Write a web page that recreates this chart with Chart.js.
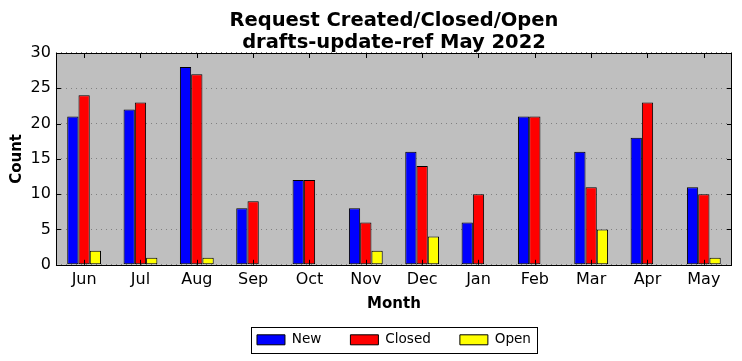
<!DOCTYPE html>
<html>
<head>
<meta charset="utf-8">
<script src="https://cdn.jsdelivr.net/npm/chart.js@4"></script>
<style>
  html, body { margin: 0; padding: 0; background: #fff; }
  #wrap { width: 742px; height: 361px; }
</style>
</head>
<body>
<div id="wrap"><canvas id="barChart" width="742" height="361"></canvas></div>
<script>
var months = ["Jun", "Jul", "Aug", "Sep", "Oct", "Nov", "Dec", "Jan", "Feb", "Mar", "Apr", "May"];
var newCounts = [21, 22, 28, 8, 12, 8, 16, 6, 21, 16, 18, 11];
var closedCounts = [24, 23, 27, 9, 12, 6, 14, 10, 21, 11, 23, 10];
var openCounts = [2, 1, 1, 0, 0, 2, 4, 0, 0, 5, 0, 1];
var yTicks = [0, 5, 10, 15, 20, 25, 30];

Chart.defaults.font.family = "'DejaVu Sans', sans-serif";
Chart.defaults.color = "#000";

// gray plot background, black frame, inward ticks, boxed legend
var framePlugin = {
    id: "frame",
    afterLayout: function(chart) {
        // center title and legend over the plot area, like matplotlib does
        var a = chart.chartArea;
        [chart.titleBlock, chart.legend].forEach(function(box) {
            if (!box) return;
            var d = (a.left + a.right) / 2 - (box.left + box.right) / 2;
            box.left += d;
            box.right += d;
        });
        chart.legend.top -= 1;
        chart.legend.bottom -= 1;
    },
    beforeDraw: function(chart) {
        var a = chart.chartArea, ctx = chart.ctx;
        ctx.save();
        ctx.fillStyle = "#bfbfbf";
        ctx.fillRect(a.left, a.top, a.right - a.left, a.bottom - a.top);
        ctx.restore();
    },
    afterDraw: function(chart) {
        var a = chart.chartArea, ctx = chart.ctx;
        var x = chart.scales.x, y = chart.scales.y;
        ctx.save();
        ctx.strokeStyle = "#000";
        ctx.lineWidth = 1;
        ctx.strokeRect(Math.round(a.left) + 0.5, Math.round(a.top) + 0.5,
            Math.round(a.right - a.left) - 1, Math.round(a.bottom - a.top));
        ctx.beginPath();
        for (var i = 0; i < months.length; i++) {
            var px = Math.round(x.getPixelForValue(i)) + 0.5;
            ctx.moveTo(px, a.bottom); ctx.lineTo(px, a.bottom - 5);
            ctx.moveTo(px, a.top); ctx.lineTo(px, a.top + 5);
        }
        yTicks.forEach(function(v) {
            var py = Math.round(y.getPixelForValue(v)) + 0.5;
            ctx.moveTo(a.left, py); ctx.lineTo(a.left + 5, py);
            ctx.moveTo(a.right, py); ctx.lineTo(a.right - 5, py);
        });
        ctx.stroke();

        var boxes = chart.legend.legendHitBoxes;
        if (boxes && boxes.length) {
            var l = Infinity, r = -Infinity, t = Infinity, b = -Infinity;
            boxes.forEach(function(h) {
                l = Math.min(l, h.left); r = Math.max(r, h.left + h.width);
                t = Math.min(t, h.top); b = Math.max(b, h.top + h.height);
            });
            ctx.strokeRect(Math.round(l - 6) + 0.5, Math.round(t - 6) + 0.5,
                Math.round(r - l + 12), Math.round(b - t + 12));
        }
        ctx.restore();
    }
};

var ctx = document.getElementById("barChart");

var chart = new Chart(ctx, {
    type: "bar",
    data: {
        labels: months,
        datasets: [
            {
                label: "New",
                data: newCounts,
                backgroundColor: "#0000ff",
                borderColor: "#000",
                borderWidth: 1,
                borderSkipped: false
            },
            {
                label: "Closed",
                data: closedCounts,
                backgroundColor: "#ff0000",
                borderColor: "#000",
                borderWidth: 1,
                borderSkipped: false
            },
            {
                label: "Open",
                data: openCounts,
                backgroundColor: "#ffff00",
                borderColor: "#000",
                borderWidth: 1,
                borderSkipped: false
            }
        ]
    },
    options: {
        responsive: false,
        animation: false,
        categoryPercentage: 0.6,
        barPercentage: 1.0,
        layout: { padding: { left: 4, right: 10, top: 4, bottom: 10 } },
        plugins: {
            title: {
                display: true,
                text: ["Request Created/Closed/Open", "drafts-update-ref May 2022"],
                font: { size: 19.5, weight: "bold", lineHeight: 1.128 },
                padding: { top: 6, bottom: -1 },
                color: "#000"
            },
            legend: {
                display: true,
                position: "bottom",
                maxHeight: 46,
                labels: {
                    boxWidth: 28,
                    boxHeight: 10,
                    padding: 29,
                    font: { size: 13.6 },
                    color: "#000"
                }
            },
            tooltip: { enabled: false }
        },
        scales: {
            x: {
                grid: { display: false, drawTicks: false },
                border: { display: false },
                ticks: { font: { size: 16 }, color: "#000", padding: 5 },
                title: {
                    display: true,
                    text: "Month",
                    font: { size: 15, weight: "bold", lineHeight: 1.2 },
                    color: "#000",
                    padding: { top: 1, bottom: -8 }
                }
            },
            y: {
                min: 0,
                max: 30,
                ticks: { stepSize: 5, font: { size: 16 }, color: "#000", padding: 5 },
                grid: {
                    color: "#808080",
                    lineWidth: 1,
                    drawTicks: false
                },
                border: { display: false, dash: [1, 4] },
                title: {
                    display: true,
                    text: "Count",
                    font: { size: 15, weight: "bold", lineHeight: 1.2 },
                    color: "#000",
                    padding: { top: 4, bottom: -0.4 }
                }
            }
        }
    },
    plugins: [framePlugin]
});
</script>
</body>
</html>
